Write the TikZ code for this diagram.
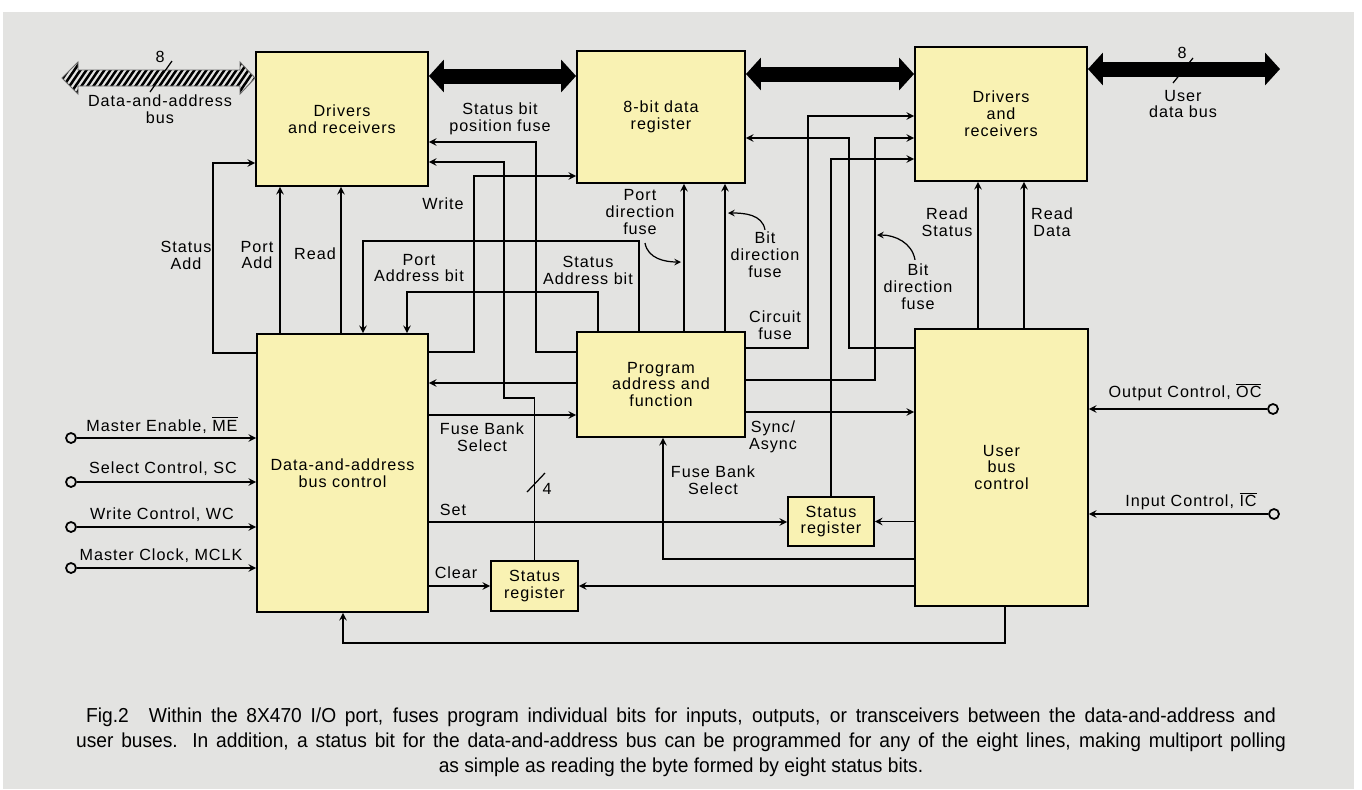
\documentclass[tikz,border=0pt]{standalone}
\usepackage{fontspec}
\setmainfont[LetterSpace=6]{Liberation Sans}
\newfontfamily\capfont[FakeStretch=0.95]{Liberation Sans}
\usetikzlibrary{arrows, arrows.meta}
\definecolor{paper}{HTML}{E3E3E1}
\definecolor{boxfill}{HTML}{F9F2B3}
\tikzstyle{block} = [
    rectangle,
    draw=black,
    line width=1.1pt,
    fill=boxfill,
    align=center,
    font=\fontsize{9.2}{9.6}\selectfont
]
\tikzstyle{txt} = [
    align=center,
    inner sep=0pt,
    font=\fontsize{9.2}{9.6}\selectfont
]
\tikzstyle{terminal} = [
    circle,
    draw=black,
    line width=1pt,
    fill=paper,
    inner sep=0pt,
    minimum size=0.2cm
]
\tikzstyle{captxt} = [
    inner sep=0pt,
    font=\capfont\fontsize{11.5}{14}\selectfont
]
\tikzstyle{arrow} = [line width=0.9pt,->,>=stealth]
\tikzstyle{pointer} = [line width=0.7pt,->,>=stealth]
\tikzstyle{bus} = [line width=0.3cm,{Triangle[length=0.3cm,width=0.64cm]}-{Triangle[length=0.3cm,width=0.64cm]}]

\begin{document}
\begin{tikzpicture}[x=0.02cm, y=-0.02cm]

\useasboundingbox (0,0) rectangle (1362,789);
\fill[white] (0,0) rectangle (1362,789);
\fill[paper] (3,12) rectangle (1354,789);

\node (dr1) [block, minimum width=3.44cm, minimum height=2.68cm] at (342,119)
{Drivers\\and receivers};

\node (reg8) [block, minimum width=3.36cm, minimum height=2.64cm] at (661,117)
{8-bit data\\register};

\node (dr2) [block, minimum width=3.44cm, minimum height=2.68cm] at (1001,114)
{Drivers\\and\\receivers};

\node (dabc) [block, minimum width=3.42cm, minimum height=5.56cm] at (342.5,473)
{Data-and-address\\bus control};

\node (paf) [block, minimum width=3.36cm, minimum height=2.10cm] at (661,384.5)
{Program\\address and\\function};

\node (ubc) [block, minimum width=3.46cm, minimum height=5.54cm] at (1001.5,467.5)
{User\\bus\\control};

\node (sr1) [block, minimum width=1.74cm, minimum height=1.00cm] at (534.5,586)
{Status\\register};

\node (sr2) [block, minimum width=1.72cm, minimum height=0.98cm] at (831,521.5)
{Status\\register};

\node (me) [terminal] at (71,438) {};
\node (sc) [terminal] at (71,482) {};
\node (wc) [terminal] at (71,527) {};
\node (mclk) [terminal] at (71,568) {};
\node (oc) [terminal] at (1273,409) {};
\node (ic) [terminal] at (1274,514) {};

\coordinate (dabus) at (62,78);
\coordinate (userbus) at (1280,69);

\begin{scope}
\clip (dabus) -- (78,62) -- (78,70) -- (240,70) -- (240,62) -- (dr1.west |- 0,78)
  -- (240,94) -- (240,86) -- (78,86) -- (78,94) -- cycle;
\foreach \i in {0,...,40}
  \draw[line width=0.05cm] (30+\i*6,100) -- (60+\i*6,56);
\end{scope}
\draw[black!60, line width=0.5pt] (dabus) -- (78,62) -- (78,70) -- (240,70) -- (240,62)
  -- (dr1.west |- 0,78) -- (240,94) -- (240,86) -- (78,86) -- (78,94) -- cycle;
\draw[line width=0.7pt] (150,92) -- (172,61);

\draw [bus] (dr1.east |- 0,76) -- (reg8.west |- 0,76);
\draw [bus] (reg8.east |- 0,74) -- (dr2.west |- 0,74);
\draw [bus] (dr2.east |- 0,69) -- (userbus);
\draw[line width=0.7pt] (1173,83) -- (1193,58);

\node (n8a) [txt] at (160,57) {8};
\node (lDabus) [txt] at (160,109) {Data-and-address\\bus};
\node (n8b) [txt] at (1182,53) {8};
\node (lUserbus) [txt] at (1183,104) {User\\data bus};

\draw [arrow] (dabc.west |- 0,353) -| (213,163) -- (dr1.west |- 0,163);
\draw [arrow] (dabc.north -| 280,0) -- (dr1.south -| 280,0);
\draw [arrow] (dabc.north -| 341,0) -- (dr1.south -| 341,0);
\draw [arrow] (paf.north -| 639,0) |- (363,241) -- (dabc.north -| 363,0);
\draw [arrow] (paf.north -| 598,0) |- (407,292) -- (dabc.north -| 407,0);
\draw [arrow] (paf.west |- 0,352) -| (536,142) -- (dr1.east |- 0,142);
\draw [arrow] (sr1.north) -- (sr1.north |- 0,398) -| (504,162) -- (dr1.east |- 0,162);
\draw [arrow] (dabc.east |- 0,352) -| (474,176) -- (reg8.west |- 0,176);
\draw [arrow] (paf.north -| 684,0) -- (reg8.south -| 684,0);
\draw [arrow] (paf.north -| 725,0) -- (reg8.south -| 725,0);

\draw [arrow] (paf.west |- 0,383) -- (dabc.east |- 0,383);
\draw [arrow] (dabc.east |- 0,415) -- (paf.west |- 0,415);
\draw [arrow] (dabc.east |- 0,522) -- (sr2.west |- 0,522);
\draw [arrow] (dabc.east |- sr1.west) -- (sr1.west);
\draw [arrow] (ubc.west |- sr1.east) -- (sr1.east);
\draw [arrow] (ubc.west |- sr2.east) -- (sr2.east);
\draw [arrow] (ubc.west |- 0,559) -| (paf.south -| 663,0);

\draw [arrow] (paf.east |- 0,348) -| (808,116) -- (dr2.west |- 0,116);
\draw [arrow] (ubc.west |- 0,348) -| (849,138) -- (reg8.east |- 0,138);
\draw [arrow] (paf.east |- 0,380) -| (875,138) -- (dr2.west |- 0,138);
\draw [arrow] (sr2.north) |- (dr2.west |- 0,159);
\draw [arrow] (paf.east |- 0,412) -- (ubc.west |- 0,412);
\draw [arrow] (ubc.north -| 978,0) -- (dr2.south -| 978,0);
\draw [arrow] (ubc.north -| 1024,0) -- (dr2.south -| 1024,0);
\draw [arrow] (ubc.south -| 1005,0) |- (343,643) -- (dabc.south -| 343,0);

\draw [arrow] (me) -- (dabc.west |- me);
\draw [arrow] (sc) -- (dabc.west |- sc);
\draw [arrow] (wc) -- (dabc.west |- wc);
\draw [arrow] (mclk) -- (dabc.west |- mclk);
\draw [arrow] (oc) -- (ubc.east |- oc);
\draw [arrow] (ic) -- (ubc.east |- ic);

\draw[line width=0.7pt] (527,492) -- (545,473);

\node (lStatusAdd) [txt] at (186,255) {Status\\Add};
\node (lPortAdd) [txt] at (257,255) {Port\\Add};
\node (lRead) [txt] at (315,254) {Read};
\node (lPosFuse) [txt] at (500,119) {Status bit\\position fuse};
\node (lWrite) [txt] at (443,204) {Write};
\node (lPortAddr) [txt] at (419,268) {Port\\Address bit};
\node (lStatAddr) [txt] at (588,270) {Status\\Address bit};
\node (lPortDir) [txt] at (640,212) {Port\\direction\\fuse};
\node (lBitDir) [txt] at (765,255) {Bit\\direction\\fuse};
\node (lCircuit) [txt] at (775,325) {Circuit\\fuse};
\node (lBitDir2) [txt] at (918,287) {Bit\\direction\\fuse};
\node (lReadStat) [txt] at (947,222) {Read\\Status};
\node (lReadData) [txt] at (1052,222) {Read\\Data};
\node (lFuseBank) [txt] at (482,437) {Fuse Bank\\Select};
\node (lSync) [txt] at (773,437) {Sync/\\Async};
\node (lFuseBank2) [txt] at (713,480) {Fuse Bank\\Select};
\node (lSet) [txt] at (453,510) {Set};
\node (lClear) [txt] at (456,573) {Clear};
\node (lFour) [txt] at (547,489) {4};
\node (lMe) [txt] at (162,425) {Master Enable, $\overline{\mbox{ME}}$};
\node (lSc) [txt] at (163,469) {Select Control, SC};
\node (lWc) [txt] at (162,515) {Write Control, WC};
\node (lMclk) [txt] at (161,556) {Master Clock, MCLK};
\node (lOc) [txt] at (1185,392) {Output Control, $\overline{\mbox{OC}}$};
\node (lIc) [txt] at (1191,501) {Input Control, $\overline{\mbox{IC}}$};

\coordinate (pdfTip) at (681,262);
\coordinate (bdfTip) at (728,213);
\coordinate (bdfTip2) at (877,235);
\draw [pointer] (645,243) to[out=-80,in=180] (pdfTip);
\draw [pointer] (lBitDir.north) ++(0,-2) to[out=100,in=0] (bdfTip);
\draw [pointer] (lBitDir2.north) ++(-3,-4) to[out=100,in=0] (bdfTip2);

\node (cap1) [captxt] at (681,717)
{\makebox[23.8cm][s]{Fig.2\quad Within the 8X470 I/O port, fuses program individual bits for inputs, outputs, or transceivers between the data-and-address and}};
\node (cap2) [captxt] at (681,742)
{\makebox[24.2cm][s]{user buses. In addition, a status bit for the data-and-address bus can be programmed for any of the eight lines, making multiport polling}};
\node (cap3) [captxt] at (681,767)
{as simple as reading the byte formed by eight status bits.};

\end{tikzpicture}
\end{document}
